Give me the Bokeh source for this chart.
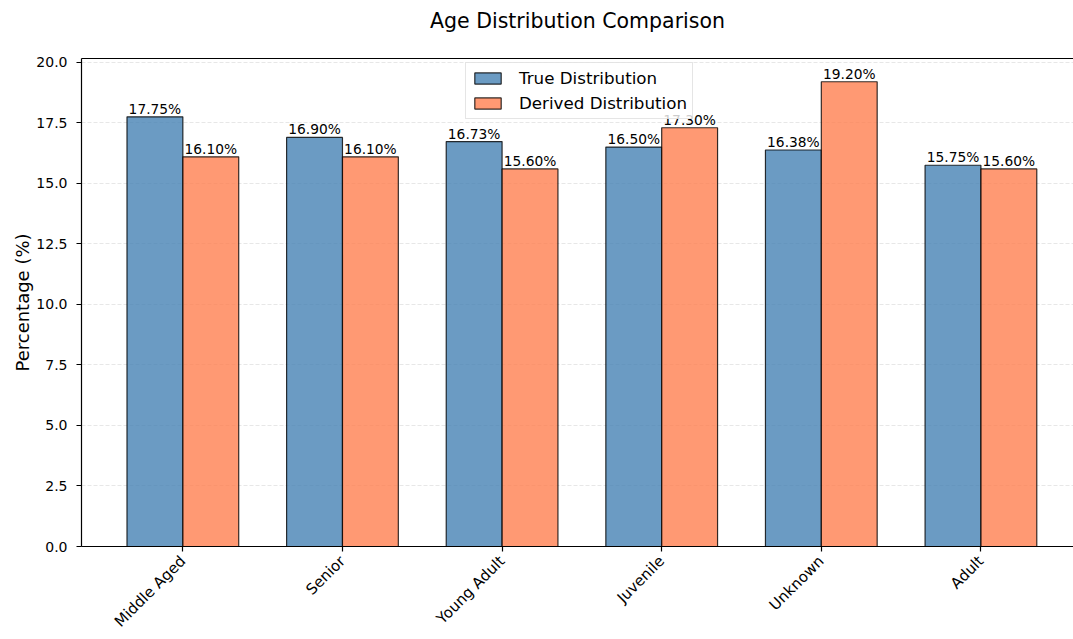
import math
from bokeh.plotting import figure
from bokeh.models import (ColumnDataSource, FixedTicker, Legend, LegendItem, Range1d,
                          LinearAxis)
from bokeh.core.properties import value
from bokeh.embed import file_html
from bokeh.resources import INLINE

categories = ["Middle Aged", "Senior", "Young Adult", "Juvenile", "Unknown", "Adult"]
true_dist = [17.75, 16.90, 16.73, 16.50, 16.38, 15.75]
derived_dist = [16.10, 16.10, 15.60, 17.30, 19.20, 15.60]
y_ticks = [0.0, 2.5, 5.0, 7.5, 10.0, 12.5, 15.0, 17.5, 20.0]
title_text = "Age Distribution Comparison"

FONT = "DejaVu Sans"
bar_w = 0.35
idx = list(range(len(categories)))

src_t = ColumnDataSource(dict(
    x=[i - bar_w / 2 for i in idx], top=true_dist,
    lab=["%.2f%%" % v for v in true_dist]))
src_d = ColumnDataSource(dict(
    x=[i + bar_w / 2 for i in idx], top=derived_dist,
    lab=["%.2f%%" % v for v in derived_dist]))

p = figure(width=1073, height=639, output_backend="svg", toolbar_location=None,
           x_range=Range1d(-0.635, 5.58), y_range=Range1d(0, 20.16),
           min_border_left=81, min_border_right=0, min_border_top=58, min_border_bottom=89)

r1 = p.vbar(x="x", top="top", width=bar_w, source=src_t, fill_color="#4682B4", fill_alpha=0.8,
            line_color="black", line_alpha=0.8, line_width=1.2)
r2 = p.vbar(x="x", top="top", width=bar_w, source=src_d, fill_color="#FF7F50", fill_alpha=0.8,
            line_color="black", line_alpha=0.8, line_width=1.2)

for s in (src_t, src_d):
    p.text(x="x", y="top", text="lab", source=s, text_align="center", text_baseline="bottom",
           text_font=value(FONT), text_font_size="13.8px", text_color="black")

# top spine carrying the title as its label
top_axis = LinearAxis(ticker=FixedTicker(ticks=[], minor_ticks=[]), axis_label=title_text)
top_axis.major_tick_line_color = None
top_axis.minor_tick_line_color = None
top_axis.major_tick_out = 0
top_axis.major_label_standoff = 0
top_axis.axis_line_color = "black"
top_axis.axis_line_width = 1.2
top_axis.axis_label_text_font = FONT
top_axis.axis_label_text_font_size = "20.5px"
top_axis.axis_label_text_font_style = "normal"
top_axis.axis_label_text_color = "black"
top_axis.axis_label_standoff = 26
p.add_layout(top_axis, "above")

# axes
xax = p.below[0]
yax = p.left[0]
xax.ticker = FixedTicker(ticks=idx)
xax.major_label_overrides = {i: c for i, c in enumerate(categories)}
xax.major_label_orientation = math.pi / 4
yax.ticker = FixedTicker(ticks=y_ticks)
yax.major_label_overrides = {t: "%.1f" % t for t in y_ticks}
yax.axis_label = "Percentage (%)"
yax.axis_label_text_font = FONT
yax.axis_label_text_font_size = "18px"
yax.axis_label_text_font_style = "normal"
yax.axis_label_text_color = "black"
yax.axis_label_standoff = 0
for ax in (xax, yax):
    ax.major_label_text_font = FONT
    ax.major_label_text_color = "black"
    ax.axis_line_color = "black"
    ax.axis_line_width = 1.2
    ax.major_tick_line_color = "black"
    ax.major_tick_line_width = 1.2
    ax.major_tick_out = 5
    ax.major_tick_in = 0
    ax.minor_tick_line_color = None
yax.major_label_text_font_size = "14px"
yax.major_label_standoff = 9
xax.major_label_text_font_size = "15px"
xax.major_label_standoff = 7

p.xgrid.grid_line_color = None
p.ygrid.grid_line_color = "#b0b0b0"
p.ygrid.grid_line_alpha = 0.3
p.ygrid.grid_line_dash = "4 2"
p.ygrid.grid_line_width = 1

p.outline_line_color = None

legend = Legend(items=[LegendItem(label="True Distribution", renderers=[r1]),
                       LegendItem(label="Derived Distribution", renderers=[r2])],
                location=(384, 427))
legend.label_text_font = FONT
legend.label_text_font_size = "16.7px"
legend.label_text_color = "black"
legend.glyph_width = 33
legend.glyph_height = 14
legend.label_height = 20
legend.spacing = 5
legend.padding = 5
legend.margin = 0
legend.label_standoff = 15
legend.border_line_color = "#cccccc"
legend.border_line_width = 1
legend.background_fill_alpha = 0.8
p.add_layout(legend)

open("out.html", "w").write(file_html(p, INLINE))
